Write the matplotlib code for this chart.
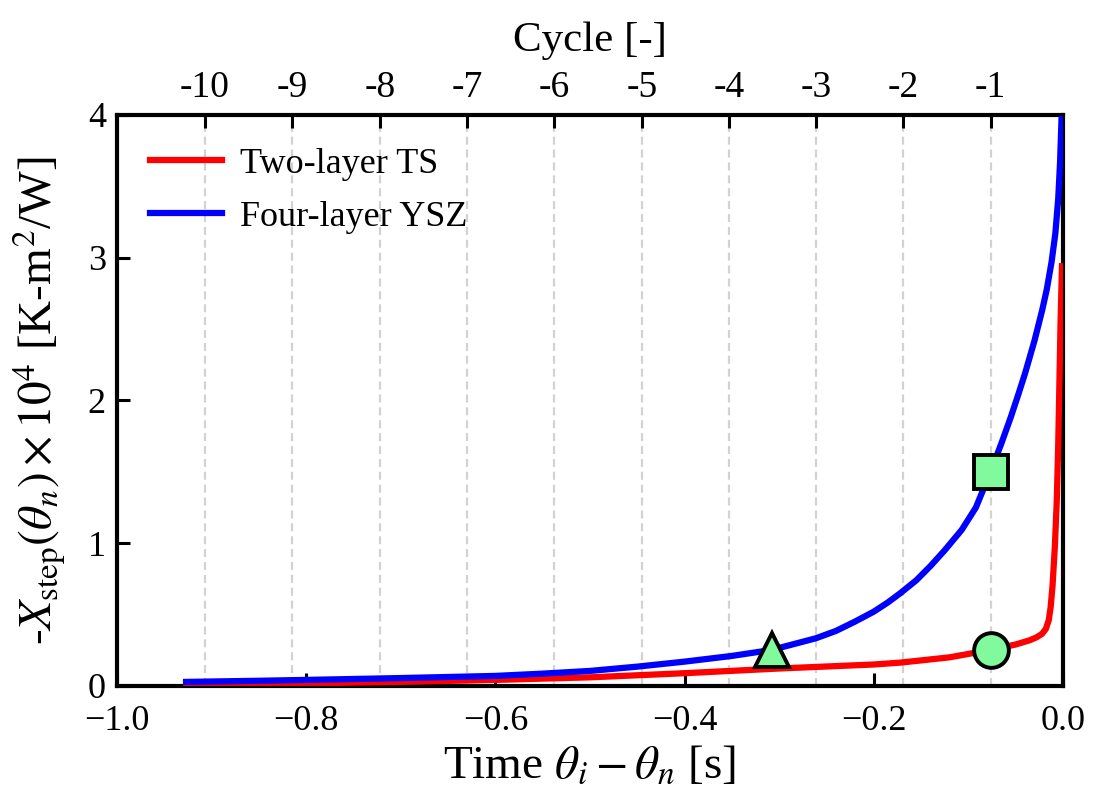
import matplotlib
matplotlib.use('Agg')

import numpy as np
import matplotlib.pyplot as plt

# curve samples (time [s], -X_step x 1e4)
ysz_t = [-0.927, -0.85, -0.80, -0.70, -0.60, -0.55, -0.50, -0.45, -0.40, -0.35,
         -0.308, -0.261, -0.24, -0.22, -0.20, -0.185, -0.172, -0.155, -0.14,
         -0.125, -0.107, -0.092, -0.0765, -0.065, -0.055, -0.047, -0.040,
         -0.030, -0.022, -0.017, -0.012, -0.008, -0.005, -0.003, -0.0014, 0.0]
ysz_x = [0.028, 0.036, 0.042, 0.055, 0.070, 0.086, 0.105, 0.135, 0.17, 0.21,
         0.252, 0.334, 0.385, 0.45, 0.52, 0.585, 0.649, 0.74, 0.84,
         0.95, 1.093, 1.25, 1.50, 1.70, 1.885, 2.045, 2.19,
         2.42, 2.63, 2.78, 2.97, 3.17, 3.41, 3.67, 3.99, 4.30]

ts_t = [-0.927, -0.80, -0.70, -0.60, -0.50, -0.40, -0.30, -0.20, -0.172, -0.12,
        -0.0765, -0.05, -0.035, -0.028, -0.022, -0.018, -0.015, -0.013, -0.011,
        -0.0085, -0.0065, -0.005, -0.0035, -0.0025, -0.001]
ts_x = [0.010, 0.018, 0.028, 0.042, 0.060, 0.089, 0.122, 0.150, 0.163, 0.20,
        0.252, 0.29, 0.32, 0.34, 0.365, 0.40, 0.46, 0.55, 0.70,
        0.98, 1.30, 1.68, 2.20, 2.55, 2.94]

# cycle boundaries on the top axis
cycle_pos = [-0.907, -0.815, -0.722, -0.630, -0.538, -0.445, -0.353, -0.261, -0.169, -0.0765]
cycle_lab = ['-10', '-9', '-8', '-7', '-6', '-5', '-4', '-3', '-2', '-1']

# highlighted points
mk_t = [-0.0765, -0.0765, -0.308]
mk_x = [1.50, 0.252, 0.252]
mk_m = ['s', 'o', '^']
mk_s = [24, 25, 25]

plt.rcParams['font.family'] = ['Liberation Serif', 'DejaVu Serif']
plt.rcParams['mathtext.fontset'] = 'stix'

fig = plt.figure(figsize=(10.94, 8.06), dpi=100)
ax = fig.add_axes([0.107, 0.149, 0.8646, 0.7085])

ax.plot(ts_t, ts_x, color='red', lw=4.5, label='Two-layer TS', zorder=3)
ax.plot(ysz_t, ysz_x, color='blue', lw=4.5, label='Four-layer YSZ', zorder=3)
for t, x, m, s in zip(mk_t, mk_x, mk_m, mk_s):
    ax.plot(t, x, marker=m, ms=s, mfc='#80FA9C', mec='black', mew=2.8,
            ls='none', zorder=5)

ax.set_xlim(-1.0, 0.0)
ax.set_ylim(0, 4)
ax.set_xticks([-1.0, -0.8, -0.6, -0.4, -0.2, 0.0])
ax.set_yticks([0, 1, 2, 3, 4])
ax.tick_params(axis='both', direction='in', length=9.5, width=2.2, labelsize=26,
               right=False, top=False)
ax.tick_params(axis='x', pad=14)
ax.tick_params(axis='y', pad=8)
for s in ax.spines.values():
    s.set_linewidth(3)

ax.set_xlabel(r'Time $\theta_i - \theta_n$ [s]', fontsize=34, labelpad=5)
ax.set_ylabel(r'-$X_{\mathrm{step}}(\theta_n) \times 10^4$ [K-m$^2$/W]',
              fontsize=34, labelpad=14)

for p in cycle_pos:
    ax.axvline(p, color='#d2d2d2', lw=1.6, ls=(0, (3.6, 2.2)), zorder=1)

top = ax.twiny()
top.set_xlim(ax.get_xlim())
top.set_xticks(cycle_pos)
top.set_xticklabels(cycle_lab)
top.tick_params(axis='x', direction='in', length=9.5, width=2.2, labelsize=27, pad=7)
top.set_xlabel('Cycle [-]', fontsize=31, labelpad=14)

ax.legend(loc='upper left', frameon=False, fontsize=26, handlelength=2.0,
          handletextpad=0.5, borderaxespad=0.5, labelspacing=0.55)

fig.savefig('out.png', dpi=100)
